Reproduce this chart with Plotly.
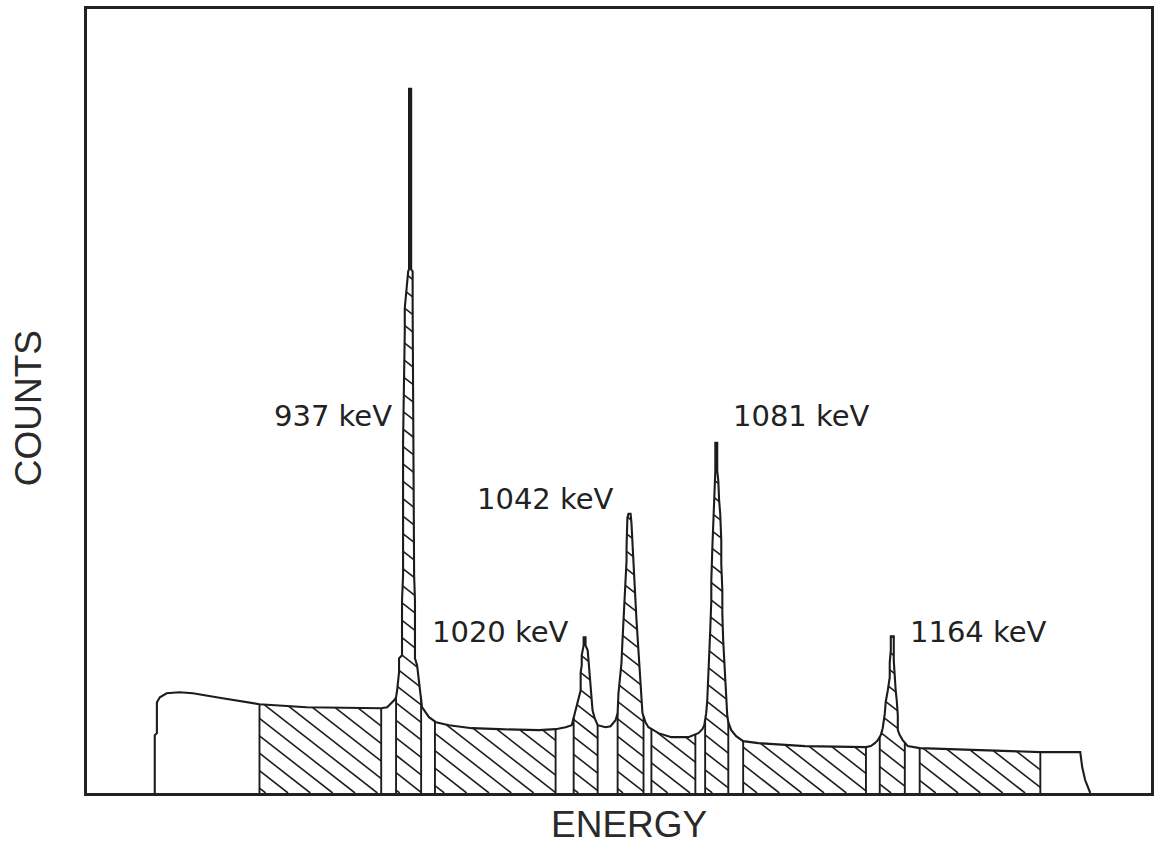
import numpy as np
import plotly.graph_objects as go

# Gamma-ray spectrum outline: energy (keV) and counts (arbitrary units)
energy_kev = [
    816.8, 816.8, 817.8, 817.8, 819.2, 822.4, 828.5, 834.7, 848.7, 866.1,
    888.2, 923.4, 926.2, 929.5, 930.4, 930.9, 931.8, 931.8, 933.2, 933.2,
    933.7, 933.7, 934.5, 934.5, 936.1, 936.5, 936.5, 937.5, 937.5, 938.2,
    938.2, 938.5, 938.9, 939.3, 939.3, 940.3, 941.7, 942.2, 942.6, 945.9,
    949.2, 955.3, 966.1, 978.8, 997.6, 1005.5, 1010.2, 1013.1, 1014.5, 1015.4,
    1016.3, 1017.3, 1017.3, 1017.8, 1017.8, 1018.2, 1018.7, 1018.7, 1019.6, 1019.6,
    1020.6, 1021.0, 1021.5, 1022.0, 1022.4, 1022.9, 1023.9, 1025.3, 1029.0, 1031.4,
    1033.7, 1034.7, 1035.1, 1036.1, 1036.5, 1037.0, 1037.5, 1037.9, 1038.4, 1038.9,
    1038.9, 1039.3, 1039.3, 1039.8, 1040.8, 1041.2, 1041.7, 1042.2, 1042.6, 1043.1,
    1043.6, 1044.0, 1044.5, 1045.0, 1045.5, 1045.9, 1046.4, 1047.8, 1049.2, 1051.6,
    1053.9, 1060.0, 1068.0, 1072.7, 1074.6, 1075.5, 1076.4, 1076.9, 1077.4, 1077.9,
    1078.3, 1078.8, 1078.8, 1079.3, 1079.7, 1080.2, 1080.2, 1080.7, 1080.7, 1081.6,
    1081.6, 1082.1, 1082.5, 1083.0, 1083.5, 1083.5, 1084.0, 1084.0, 1084.4, 1084.9,
    1085.4, 1085.8, 1086.3, 1086.8, 1088.2, 1090.5, 1093.8, 1100.9, 1122.9, 1151.6,
    1153.9, 1155.8, 1157.2, 1158.6, 1159.5, 1160.5, 1160.9, 1161.9, 1162.4, 1162.8,
    1162.8, 1163.3, 1163.3, 1164.7, 1164.7, 1165.2, 1165.6, 1166.1, 1166.6, 1166.6,
    1167.5, 1168.9, 1171.3, 1176.9, 1200.9, 1233.7, 1252.5, 1253.4, 1254.8, 1257.2,
]
counts = [
    0, 580, 600, 910, 960, 1000, 1010, 1000, 950, 890,
    860, 850, 860, 930, 960, 1030, 1210, 1350, 1380, 1930,
    2180, 3530, 4630, 4860, 5230, 5250, 7060, 7060, 5250, 5230,
    4860, 3530, 2180, 1930, 1350, 1280, 1030, 960, 860, 760,
    710, 680, 650, 640, 630, 640, 660, 680, 800, 880,
    930, 1030, 1210, 1280, 1380, 1430, 1480, 1560, 1560, 1480,
    1430, 1330, 1210, 1030, 930, 830, 750, 680, 660, 670,
    730, 800, 1000, 1180, 1300, 1530, 1730, 1930, 2130, 2330,
    2460, 2630, 2760, 2800, 2800, 2710, 2460, 2280, 2060, 1930,
    1730, 1580, 1460, 1330, 1130, 930, 800, 710, 660, 630,
    600, 560, 560, 600, 640, 680, 800, 930, 1130, 1380,
    1630, 1930, 2130, 2460, 2730, 2930, 3130, 3230, 3510, 3510,
    3230, 3130, 2930, 2800, 2530, 2300, 2030, 1800, 1530, 1330,
    1130, 930, 780, 710, 630, 570, 520, 500, 470, 460,
    470, 500, 530, 580, 650, 800, 910, 1030, 1130, 1160,
    1310, 1430, 1570, 1570, 1330, 1130, 1030, 930, 780, 630,
    580, 530, 470, 450, 430, 410, 410, 260, 130, 0,
]

# Integration windows (keV): peak regions and the background regions between them
window_lo = [866.1, 930.4, 948.7, 1014.0, 1034.7, 1050.6, 1075.9, 1093.8, 1158.1, 1176.9]
window_hi = [923.4, 942.2, 1005.5, 1025.3, 1046.9, 1071.3, 1086.8, 1151.6, 1169.9, 1233.7]

# Peak labels
peak_labels = ["937 keV", "1020 keV", "1042 keV", "1081 keV", "1164 keV"]
label_x = [929.5, 1012.6, 1033.7, 1088.2, 1171.3]
label_y = [3780, 1610, 2950, 3780, 1610]
label_side = ["right", "right", "right", "left", "left"]

INK = "#1c1c1c"

# Figure geometry
FIG_W, FIG_H = 1160, 849
MARGIN = dict(l=87, r=6, t=7, b=56)
X_RANGE = [784.9, 1285.8]
Y_RANGE = [0, 7860]

# Hatching style: angle below horizontal and spacing, in screen pixels
HATCH_DEG = 38.0
HATCH_STEP_PX = 17.5     # vertical distance between neighbouring hatch lines

E = np.asarray(energy_kev, dtype=float)
C = np.asarray(counts, dtype=float)

plot_w = FIG_W - MARGIN["l"] - MARGIN["r"]
plot_h = FIG_H - MARGIN["t"] - MARGIN["b"]
kev_per_px = (X_RANGE[1] - X_RANGE[0]) / plot_w
cnt_per_px = (Y_RANGE[1] - Y_RANGE[0]) / plot_h


def hatch_segments(lo, hi):
    """Diagonal '\\' hatch lines clipped to the area under the spectrum in [lo, hi]."""
    u0 = (lo - X_RANGE[0]) / kev_per_px
    u1 = (hi - X_RANGE[0]) / kev_per_px
    u = np.arange(u0, u1 + 0.05, 0.1)
    top = np.interp(u * kev_per_px + X_RANGE[0], E, C) / cnt_per_px
    slope = np.tan(np.radians(HATCH_DEG))
    xs, ys = [], []
    c_min = u0 * slope
    c_max = top.max() + u1 * slope
    c = np.floor(c_min / HATCH_STEP_PX) * HATCH_STEP_PX
    while c <= c_max:
        v = c - u * slope
        ok = (v >= 0) & (v <= top)
        if ok.any():
            idx = np.flatnonzero(ok)
            breaks = np.flatnonzero(np.diff(idx) > 1)
            starts = np.concatenate(([idx[0]], idx[breaks + 1]))
            ends = np.concatenate((idx[breaks], [idx[-1]]))
            for s, e in zip(starts, ends):
                if e - s < 2:
                    continue
                xs += [u[s] * kev_per_px + X_RANGE[0], u[e] * kev_per_px + X_RANGE[0], None]
                ys += [v[s] * cnt_per_px, v[e] * cnt_per_px, None]
        c += HATCH_STEP_PX
    return xs, ys


fig = go.Figure()

hx, hy = [], []
for lo, hi in zip(window_lo, window_hi):
    sx, sy = hatch_segments(lo, hi)
    hx += sx
    hy += sy
fig.add_trace(go.Scatter(
    x=hx, y=hy, mode="lines", line=dict(color="#1e1e1e", width=1.6),
    connectgaps=False, hoverinfo="skip", showlegend=False,
))

# Window borders (vertical edges up to the spectrum)
bx, by = [], []
for lo, hi in zip(window_lo, window_hi):
    for edge in (lo, hi):
        bx += [edge, edge, None]
        by += [0.0, float(np.interp(edge, E, C)), None]
fig.add_trace(go.Scatter(
    x=bx, y=by, mode="lines", line=dict(color=INK, width=1.9),
    connectgaps=False, hoverinfo="skip", showlegend=False,
))

# Spectrum outline
fig.add_trace(go.Scatter(
    x=E, y=C, mode="lines",
    line=dict(color=INK, width=2.1),
    hoverinfo="skip", showlegend=False,
))

annotations = []
for text, x, y, side in zip(peak_labels, label_x, label_y, label_side):
    annotations.append(dict(
        x=x, y=y, xref="x", yref="y", text=text, showarrow=False,
        xanchor=side, yanchor="middle",
        font=dict(family="DejaVu Sans", size=29, color="#222"),
    ))

# Axis captions
annotations.append(dict(
    x=-0.0553, y=0.491, xref="paper", yref="paper", text="COUNTS",
    textangle=-90, showarrow=False, xanchor="center", yanchor="middle",
    font=dict(family="Liberation Sans", size=37, color="#2a2a2a"),
))
annotations.append(dict(
    x=0.5098, y=-0.0407, xref="paper", yref="paper", text="ENERGY",
    showarrow=False, xanchor="center", yanchor="middle",
    font=dict(family="Liberation Sans", size=37, color="#2a2a2a"),
))

axis_style = dict(
    showline=True, mirror=True, linecolor="#222", linewidth=2.5,
    showticklabels=False, ticks="", showgrid=False, zeroline=False,
)

fig.update_layout(
    width=FIG_W, height=FIG_H,
    margin=MARGIN,
    paper_bgcolor="white", plot_bgcolor="white",
    xaxis=dict(range=X_RANGE, **axis_style),
    yaxis=dict(range=Y_RANGE, **axis_style),
    annotations=annotations,
    showlegend=False,
)

fig.write_html("out.html", config={"displayModeBar": False})
